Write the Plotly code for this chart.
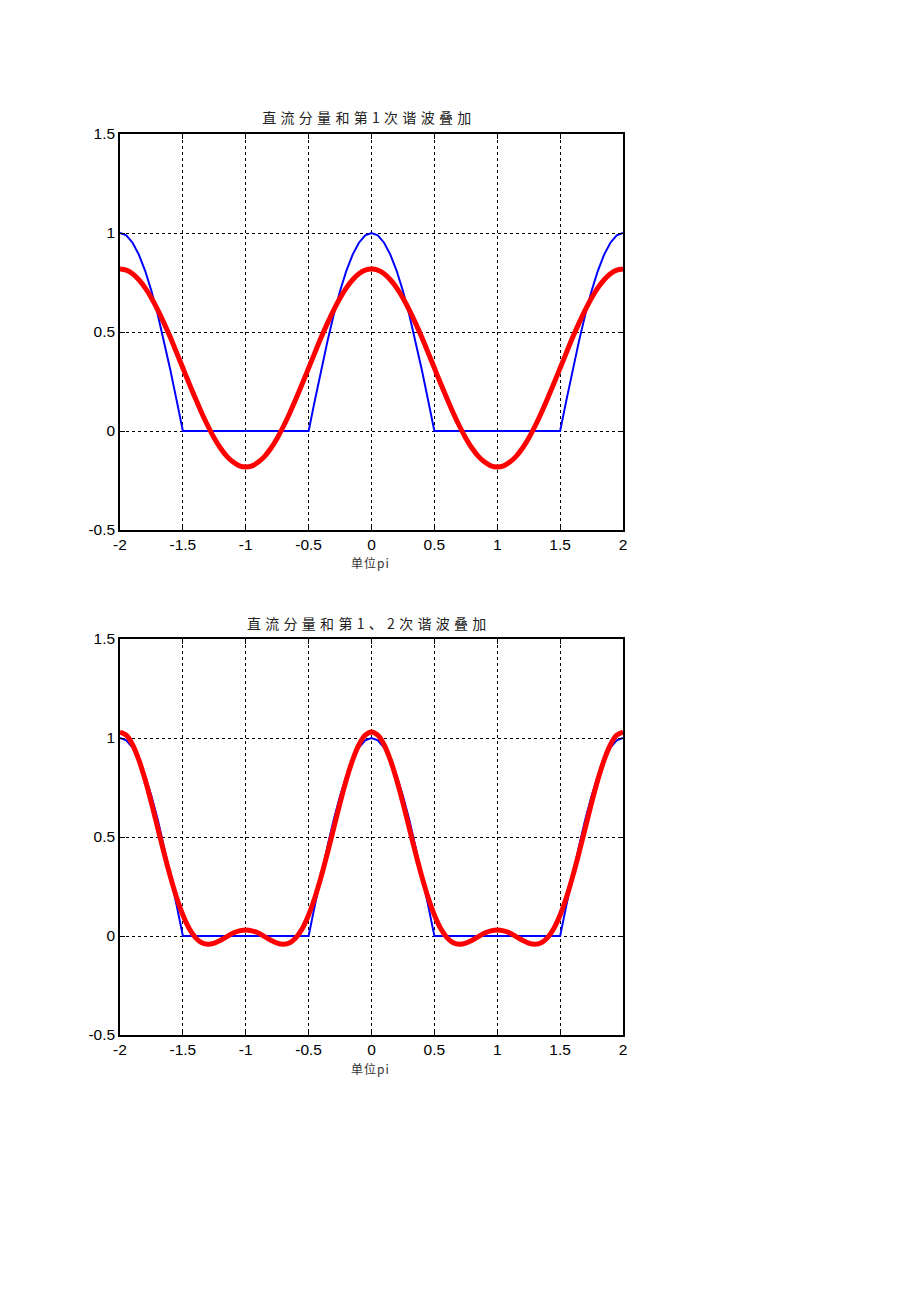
import plotly.graph_objects as go

# x in units of pi, step 0.05
x_vals = [round(-2 + 0.05 * i, 2) for i in range(81)]

# one half-period of values (offset 0.00 .. 1.00 from an even multiple of pi)
blue_half = [1.0, 0.988, 0.951, 0.891, 0.809, 0.707, 0.588, 0.454, 0.309, 0.156, 0.0,
             0.0, 0.0, 0.0, 0.0, 0.0, 0.0, 0.0, 0.0, 0.0, 0.0]
red1_half = [0.818, 0.812, 0.794, 0.764, 0.723, 0.672, 0.612, 0.545, 0.473, 0.396, 0.318,
             0.240, 0.164, 0.091, 0.024, -0.036, -0.087, -0.128, -0.157, -0.176, -0.182]
red2_half = [1.030, 1.014, 0.966, 0.889, 0.789, 0.672, 0.546, 0.420, 0.301, 0.194, 0.106,
             0.038, -0.008, -0.034, -0.042, -0.036, -0.021, -0.003, 0.015, 0.026, 0.030]

def full(half):
    period = half + half[-2:0:-1]
    n = len(period)
    return [period[i % n] for i in range(81)]

blue = full(blue_half)
red1 = full(red1_half)
red2 = full(red2_half)

titles = ["直流分量和第1次谐波叠加", "直流分量和第1、2次谐波叠加"]
xlabel = "单位pi"
xticks = [-2, -1.5, -1, -0.5, 0, 0.5, 1, 1.5, 2]
xticktext = ["-2", "-1.5", "-1", "-0.5", "0", "0.5", "1", "1.5", "2"]
yticks = [-0.5, 0, 0.5, 1, 1.5]
yticktext = ["-0.5", "0", "0.5", "1", "1.5"]

W, H = 920, 1302
xdom = [120 / W, 623 / W]
ydoms = [[1 - 530 / H, 1 - 134 / H], [1 - 1035 / H, 1 - 639 / H]]
title_y = [1 - 117 / H, 1 - 623 / H]
label_y = [1 - 562 / H, 1 - 1068 / H]

fig = go.Figure()
font = dict(family="Liberation Sans, Arial, sans-serif", size=15.5, color="black")

for i, red in enumerate([red1, red2]):
    xa = "x" if i == 0 else "x2"
    ya = "y" if i == 0 else "y2"
    fig.add_trace(go.Scatter(x=x_vals, y=blue, mode="lines", xaxis=xa, yaxis=ya,
                             line=dict(color="#0000ff", width=2), showlegend=False))
    fig.add_trace(go.Scatter(x=x_vals, y=red, mode="lines", xaxis=xa, yaxis=ya,
                             line=dict(color="#ff0000", width=5, shape="spline"),
                             showlegend=False))
    axis_common = dict(showline=True, linecolor="black", linewidth=1.5, mirror="ticks",
                       ticks="inside", ticklen=5, tickcolor="black",
                       showgrid=True, gridcolor="black", gridwidth=1, griddash="3px,3px",
                       zeroline=False, tickfont=font, automargin=False)
    xkey = "xaxis" if i == 0 else "xaxis2"
    ykey = "yaxis" if i == 0 else "yaxis2"
    fig.update_layout(**{
        xkey: dict(domain=xdom, range=[-2, 2], anchor=ya, tickvals=xticks,
                   ticktext=xticktext, ticklabelstandoff=0, **axis_common),
        ykey: dict(domain=ydoms[i], range=[-0.5, 1.5], anchor=xa, tickvals=yticks,
                   ticktext=yticktext, ticklabelstandoff=0, **axis_common),
    })
    fig.add_annotation(text=titles[i], x=369 / W, y=title_y[i], xref="paper", yref="paper",
                       showarrow=False, xanchor="center", yanchor="middle",
                       font=dict(family="Noto Sans CJK SC, sans-serif", size=14, color="#222222"))
    fig.add_annotation(text=xlabel, x=370 / W, y=label_y[i], xref="paper", yref="paper",
                       showarrow=False, xanchor="center", yanchor="middle",
                       font=dict(family="Noto Sans CJK SC, sans-serif", size=12, color="#333333"))

fig.update_layout(width=W, height=H, margin=dict(l=0, r=0, t=0, b=0, pad=0),
                  paper_bgcolor="white", plot_bgcolor="white", hovermode=False)

post = """
document.documentElement.style.margin='0';
document.documentElement.style.overflow='hidden';
document.body.style.margin='0';
document.body.style.overflow='hidden';
document.querySelectorAll('.annotation-text').forEach(function(t){
  if (t.textContent.indexOf('直流') === 0) { t.style.letterSpacing = '4.3px'; }
  else { t.style.letterSpacing = '1px'; }
});
"""
fig.write_html("out.html", post_script=post, config={"displayModeBar": False})
